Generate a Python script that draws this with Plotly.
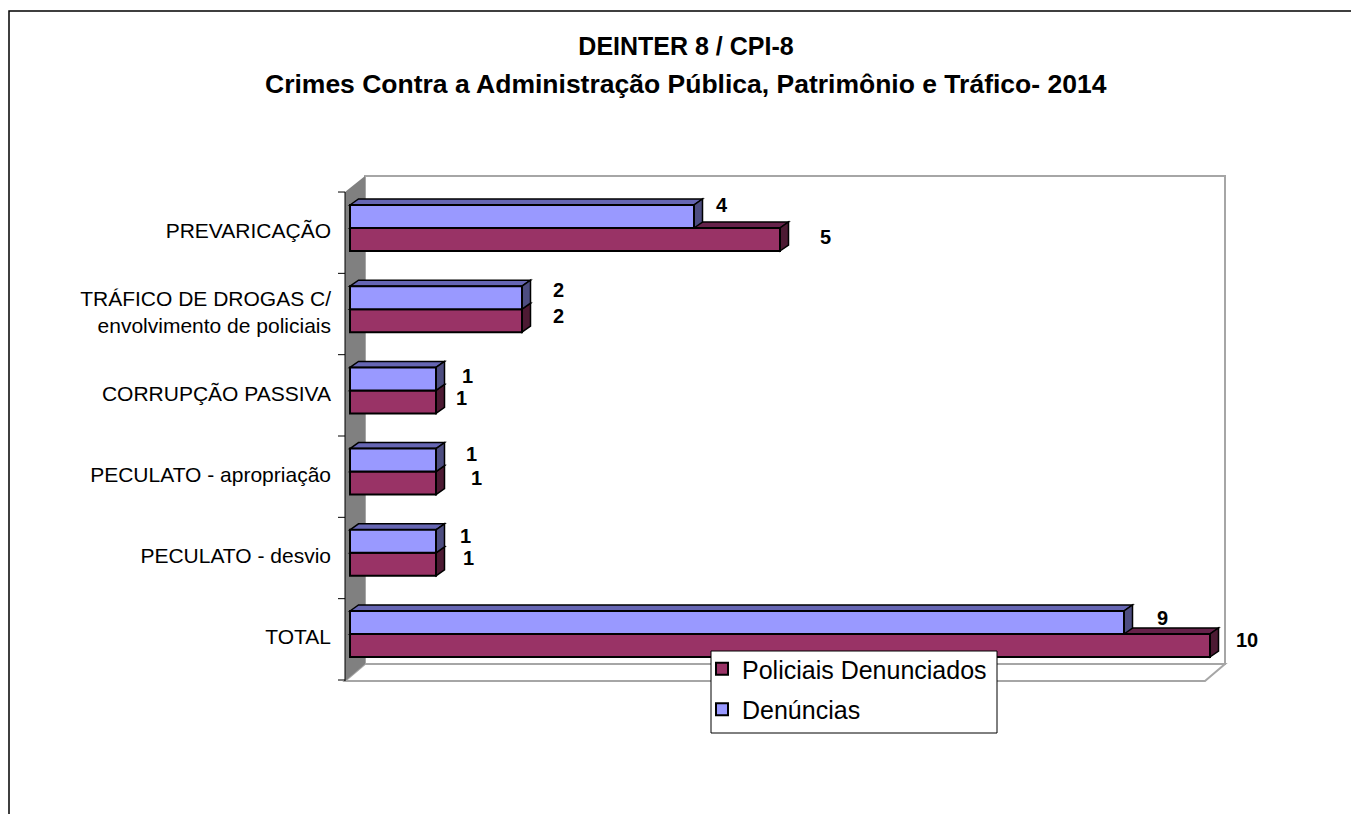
import plotly.graph_objects as go

categories = ["TOTAL", "PECULATO - desvio", "PECULATO - apropriação", "CORRUPÇÃO PASSIVA",
              "TRÁFICO DE DROGAS C/<br>envolvimento de policiais", "PREVARICAÇÃO"]
policiais = [10, 1, 1, 1, 2, 5]
denuncias = [9, 1, 1, 1, 2, 4]
series_names = ["Policiais Denunciados", "Denúncias"]
title_lines = ["DEINTER 8 / CPI-8", "Crimes Contra a Administração Pública, Patrimônio e Tráfico- 2014"]

# per-label pixel nudges as placed in the original (dx from bar end, dy from bar centre)
nudge_pol = [(37, -5.5), (32, -6), (40, -5), (25, -4), (36, -5), (45, -3)]
nudge_den = [(38, -4.5), (29, -5), (35, -6), (31, -3), (36, -8), (28, -12)]

W, H = 1351, 814
L, R, T, B = 345, 1225, 176, 682
PX_X = 86.0          # px per value unit
PX_Y = 81.2          # px per category
X0, Y0 = 350, 634    # pixel of value 0 / category 0
GROUP = 46           # px thickness of bar pair
DX, DY = 8.5, 6      # bar depth in px

xr = [(L - X0) / PX_X, (R - X0) / PX_X]
yr = [(Y0 - B) / PX_Y, (Y0 - T) / PX_Y]
px = lambda p: (p - L) / (R - L)
py = lambda p: (B - p) / (B - T)
RED, RED_TOP, RED_SIDE = "#993366", "#66224A", "#4D1A33"
BLUE, BLUE_TOP, BLUE_SIDE = "#9999FF", "#6666B3", "#4D4D80"
FONT = "Liberation Sans, Arial, sans-serif"

fig = go.Figure()
fig.add_bar(name=series_names[0], y=categories, x=policiais, orientation="h", legendgroup="a",
            marker=dict(color=RED, line=dict(color="black", width=2)))
fig.add_bar(name=series_names[1], y=categories, x=denuncias, orientation="h", legendgroup="b",
            marker=dict(color=BLUE, line=dict(color="black", width=2)))

shapes = []
def poly(pts, fill, line="rgba(0,0,0,0)", width=0, xref="paper", yref="paper", layer="below"):
    path = "M" + " L".join(f"{a},{b}" for a, b in pts) + " Z"
    shapes.append(dict(type="path", path=path, fillcolor=fill, xref=xref, yref=yref, layer=layer,
                       line=dict(color=line, width=width)))

# outer frame (runs past the right and bottom of the page)
shapes.append(dict(type="rect", xref="paper", yref="paper", x0=px(9), x1=px(1400), y0=py(11), y1=py(860),
                   line=dict(color="black", width=1.5), fillcolor="white", layer="below"))
# back wall, floor, side wall
poly([(px(365), py(176)), (px(1225), py(176)), (px(1225), py(664)), (px(365), py(664))], "white", "#A6A6A6", 2)
poly([(px(345), py(681)), (px(1205), py(681)), (px(1225), py(664)), (px(365), py(664))], "white", "#A6A6A6", 2)
poly([(px(345), py(681)), (px(365), py(664)), (px(365), py(176)), (px(345), py(192))], "#808080")
shapes.append(dict(type="line", xref="paper", yref="paper", x0=px(345), x1=px(345), y0=py(192), y1=py(681),
                   line=dict(color="black", width=1), layer="below"))
for k in range(7):
    yp = 680 - k * 81.33
    shapes.append(dict(type="line", xref="paper", yref="paper", x0=px(338), x1=px(345), y0=py(yp), y1=py(yp),
                       line=dict(color="black", width=1), layer="below"))

# depth faces derived from the bar values
ddx, ddy = DX / PX_X, DY / PX_Y
half = GROUP / 2 / PX_Y
for vals, lo, hi, top, side in ((policiais, -half, 0, RED_TOP, RED_SIDE), (denuncias, 0, half, BLUE_TOP, BLUE_SIDE)):
    for i, v in enumerate(vals):
        a, b = i + lo, i + hi
        poly([(0, b), (ddx, b + ddy), (v + ddx, b + ddy), (v, b)], top, "black", 1.5, "x", "y")
        poly([(v, a), (v + ddx, a + ddy), (v + ddx, b + ddy), (v, b)], side, "black", 1.5, "x", "y")

# legend box, above the bars; the legend text sits on it
shapes.append(dict(type="rect", xref="paper", yref="paper", x0=px(711), x1=px(997), y0=py(651), y1=py(733),
                   line=dict(color="black", width=1), fillcolor="white", layer="above"))

annotations = [dict(text="<b>%s</b>" % title_lines[1], xref="paper", yref="paper", x=px(686), y=py(84),
                    xanchor="center", yanchor="middle", showarrow=False,
                    font=dict(family=FONT, size=26.5, color="black"))]
for vals, nudges, off in ((policiais, nudge_pol, GROUP / 4 * -1), (denuncias, nudge_den, GROUP / 4)):
    for i, v in enumerate(vals):
        annotations.append(dict(text="<b>%d</b>" % v, x=v, y=i + off / PX_Y, xref="x", yref="y",
                                xshift=nudges[i][0], yshift=-nudges[i][1], showarrow=False,
                                font=dict(family=FONT, size=20, color="black")))

fig.update_layout(
    width=W, height=H, margin=dict(l=L, r=W - R, t=T, b=H - B, pad=0, autoexpand=False),
    paper_bgcolor="white", plot_bgcolor="rgba(0,0,0,0)",
    barmode="group", bargap=1 - GROUP / PX_Y, bargroupgap=0, showlegend=True,
    title=dict(text="<b>%s</b>" % title_lines[0], x=686 / W, y=1 - 46 / H, xanchor="center", yanchor="middle",
               font=dict(family=FONT, size=25, color="black")),
    font=dict(family=FONT, color="black"),
    xaxis=dict(range=xr, visible=False, showgrid=False, zeroline=False),
    yaxis=dict(range=yr, type="category", categoryorder="array", categoryarray=categories, showgrid=False,
               zeroline=False, showline=False, ticks="", ticklabelstandoff=13, ticklabelshift=3,
               tickfont=dict(family=FONT, size=21, color="black")),
    legend=dict(x=px(702), y=py(646), xanchor="left", yanchor="top", bgcolor="rgba(0,0,0,0)",
                borderwidth=0, traceorder="grouped", font=dict(family=FONT, size=25, color="black"),
                itemwidth=30, tracegroupgap=5),
    shapes=shapes, annotations=annotations,
)
fig.write_html("out.html", config=dict(displayModeBar=False),
               post_script="document.body.style.margin='0';document.body.style.overflow='hidden';")
